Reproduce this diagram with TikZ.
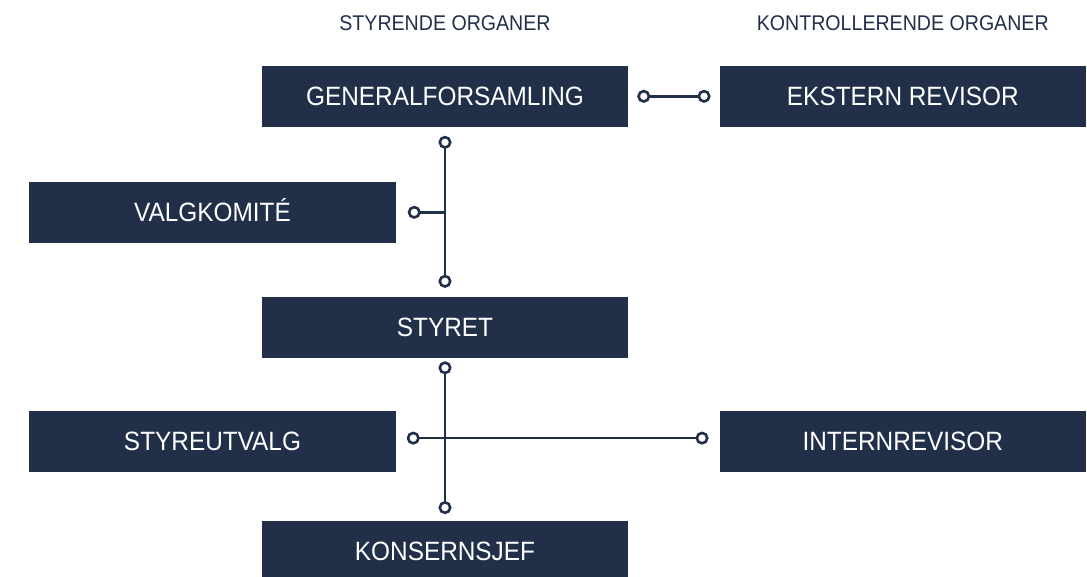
\documentclass[tikz,border=0pt]{standalone}
\usepackage{fontspec}
\setmainfont[FakeStretch=0.92]{Liberation Sans}
\usepackage{tikz}
\usetikzlibrary{arrows.meta, positioning}
\usepackage{xcolor}
\definecolor{navy}{HTML}{222F49}

\begin{document}
\begin{tikzpicture}[
    x=1pt, y=-1pt,
    box/.style={fill=navy, text=white, rectangle, outer sep=0pt, minimum width=366.5pt, minimum height=61pt,
        text height=18.6pt, text depth=0pt, font=\fontsize{26.5}{30}\selectfont, align=center},
    heading/.style={text=navy, inner sep=0pt, font=\fontsize{21.3}{25}\selectfont},
    ring/.tip={Circle[open, fill=white, length=13pt]},
    link/.style={draw=navy, line width=2.6pt, ring-ring, shorten <=9pt, shorten >=9pt}
]
\useasboundingbox (0,0) rectangle (1087,576);

% Styrende organer
\node[box] (gf) at (445,96.3) {GENERALFORSAMLING};
\node[box, below=170pt of gf] (styret) {STYRET};
\node[box, below=163.3pt of styret] (ceo) {KONSERNSJEF};
\node[box] (valg) at (212.5,212.3) {VALGKOMITÉ};
\node[box, below=168.3pt of valg] (utvalg) {STYREUTVALG};

% Kontrollerende organer
\node[box, right=91.3pt of gf] (ekstern) {EKSTERN REVISOR};
\node[box] (intern) at (ekstern |- utvalg) {INTERNREVISOR};

% Overskrifter
\node[heading, above=34.6pt of gf] (hgov) {STYRENDE ORGANER};
\node[heading, above=34.6pt of ekstern] (hctl) {KONTROLLERENDE ORGANER};

% Linjer
\coordinate (j1) at (gf |- valg);
\draw[link] (gf) -- (ekstern);
\draw[link] (gf) -- (styret);
\draw[link, ring-, shorten <=12pt, shorten >=0pt] (valg) -- (j1);
\draw[link, shorten <=3.5pt, shorten >=7pt] (styret) -- (ceo);
\draw[link, shorten <=11pt, shorten >=11pt] ([yshift=3.5pt]utvalg.east) -- ([yshift=3.5pt]intern.west);

\end{tikzpicture}
\end{document}
